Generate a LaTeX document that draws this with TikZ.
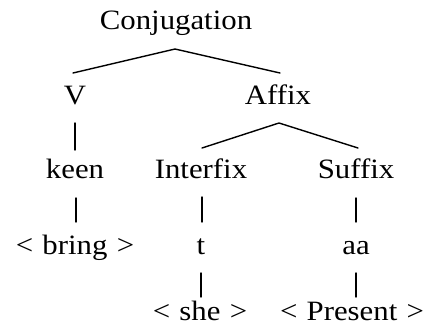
\documentclass[tikz,border=0pt]{standalone}
\usepackage{fontspec}
\usepackage{graphicx}
\setmainfont{Liberation Serif}
\usetikzlibrary{calc}
\newcommand\xwide[1]{\scalebox{1.1}[1]{#1}}
\begin{document}
\begin{tikzpicture}[x=1pt,y=-1pt,
  lbl/.style={anchor=base,inner sep=0pt,font=\fontsize{28}{32}\selectfont},
  edge/.style={line width=1.4pt,line cap=round,line join=miter}]
\useasboundingbox (0,0) rectangle (428,333);
% nodes
\node[lbl] (conj) at (176,29) {\xwide{Conjugation}};
\node[lbl] (V) at (75,104) {\xwide{V}};
\node[lbl] (affix) at (278,104) {\xwide{Affix}};
\node[lbl] (keen) at (75,178) {\xwide{keen}};
\node[lbl] (interfix) at (201,178) {\xwide{Interfix}};
\node[lbl] (suffix) at (356,178) {\xwide{Suffix}};
\node[lbl] (bring) at (75,254) {\xwide{<\hspace{0.3em}bring\hspace{0.3em}>}};
\node[lbl] (t) at (201,254) {\xwide{t}};
\node[lbl] (aa) at (356,254) {\xwide{aa}};
\node[lbl] (she) at (200,320) {\xwide{<\hspace{0.3em}she\hspace{0.3em}>}};
\node[lbl] (present) at (352,320) {\xwide{<\hspace{0.3em}Present\hspace{0.3em}>}};
% connectors
\draw[edge] ($(V.base)+(-2,-31)$) -- ($(conj.base)+(-1,20)$) -- ($(affix.base)+(2,-31)$);
\draw[edge] ($(interfix.base)+(1,-30)$) -- ($(affix.base)+(1,19)$) -- ($(suffix.base)+(2,-30)$);
\draw[edge] ($(V.base)+(0,19)$) -- ($(keen.base)+(0,-28)$);
\draw[edge] ($(keen.base)+(1,20)$) -- ($(bring.base)+(1,-32)$);
\draw[edge] ($(interfix.base)+(1,19)$) -- ($(t.base)+(1,-32)$);
\draw[edge] ($(suffix.base)+(0,20)$) -- ($(aa.base)+(0,-32)$);
\draw[edge] ($(t.base)+(0,19)$) -- ($(she.base)+(1,-23)$);
\draw[edge] ($(aa.base)+(0,19)$) -- ($(aa.base |- present.base)+(0,-23)$);
\end{tikzpicture}
\end{document}
